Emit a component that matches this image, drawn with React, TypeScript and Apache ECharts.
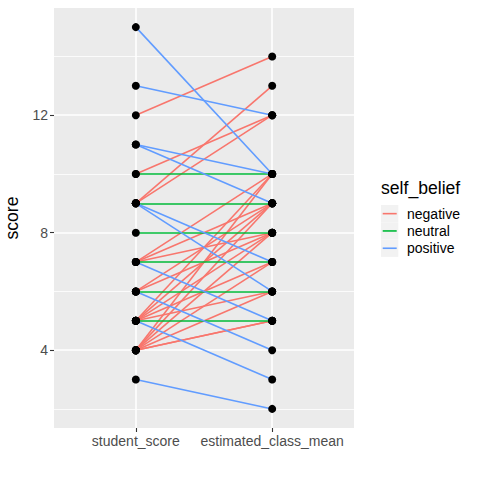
import React, { useEffect, useRef } from "react";
import * as echarts from "echarts";

// one entry per student: own score and estimated class mean
const studentScore = [15, 13, 11, 11, 9, 9, 7, 6, 5, 3, 10, 9, 8, 7, 6, 5, 12, 9, 10, 9, 7, 7, 7, 6, 6, 5, 5, 5, 5, 5, 4, 4, 4, 4, 4, 4, 4];
const estimatedMean = [10, 12, 10, 9, 7, 6, 5, 4, 3, 2, 10, 9, 8, 7, 6, 5, 14, 13, 12, 12, 10, 9, 8, 8, 9, 10, 9, 8, 7, 6, 10, 9, 8, 7, 6, 5, 5];

const xCategories = ["student_score", "estimated_class_mean"];
const yTicks = [4, 8, 12];
const yMinor = [2, 6, 10, 14];
const beliefLevels = ["negative", "neutral", "positive"];
const beliefColors = ["#F8766D", "#00BA38", "#619CFF"];

const FONT = "'Liberation Sans', Arial, Helvetica, sans-serif";

export default function App() {
  const ref = useRef<HTMLDivElement>(null);
  useEffect(() => {
    if (!ref.current) return;
    const chart = echarts.init(ref.current, null, { renderer: "svg" });

    const belief = studentScore.map((s, i) =>
      estimatedMean[i] > s ? 0 : estimatedMean[i] === s ? 1 : 2
    );

    const lineSeries = [0, 1, 2].map((lvl) => ({
      type: "lines",
      coordinateSystem: "cartesian2d",
      silent: true,
      z: 10,
      lineStyle: { color: beliefColors[lvl], width: 1.6, opacity: 1 },
      data: studentScore
        .map((s, i) => ({ s, e: estimatedMean[i], b: belief[i] }))
        .filter((d) => d.b === lvl)
        .map((d) => ({ coords: [[1, d.s], [2, d.e]] })),
    }));

    const pts: number[][] = [];
    studentScore.forEach((s) => pts.push([1, s]));
    estimatedMean.forEach((e) => pts.push([2, e]));

    const gridLines = {
      type: "line",
      data: [],
      silent: true,
      z: 1,
      markLine: {
        silent: true,
        z: 1,
        symbol: "none",
        label: { show: false },
        animation: false,
        data: [
          ...yMinor.map((v) => ({ yAxis: v, lineStyle: { color: "#ffffff", width: 0.8, type: "solid" } })),
          ...yTicks.map((v) => ({ yAxis: v, lineStyle: { color: "#ffffff", width: 1.6, type: "solid" } })),
          ...[1, 2].map((v) => ({ xAxis: v, lineStyle: { color: "#ffffff", width: 1.6, type: "solid" } })),
        ],
      },
    };

    const legendTop = 205;
    const keyH = 17.3;
    const legendGraphics: any[] = [
      {
        type: "text",
        left: 381,
        top: 179,
        style: { text: "self_belief", font: `17.6px ${FONT}`, fill: "#000000" },
      },
    ];
    beliefLevels.forEach((lab, i) => {
      const y0 = legendTop + i * keyH;
      legendGraphics.push({
        type: "rect",
        shape: { x: 381, y: y0, width: 17.3, height: keyH },
        style: { fill: "#F2F2F2" },
      });
      legendGraphics.push({
        type: "line",
        shape: { x1: 382.7, y1: y0 + keyH / 2, x2: 396.7, y2: y0 + keyH / 2 },
        style: { stroke: beliefColors[i], lineWidth: 1.6 },
      });
      legendGraphics.push({
        type: "text",
        x: 407,
        y: y0 + keyH / 2,
        style: {
          text: lab,
          font: `14px ${FONT}`,
          fill: "#000000",
          textVerticalAlign: "middle",
          verticalAlign: "middle",
        },
      });
    });

    chart.setOption({
      animation: false,
      backgroundColor: "#ffffff",
      textStyle: { fontFamily: FONT },
      grid: {
        left: 54,
        right: 126,
        top: 8,
        bottom: 52,
        containLabel: false,
        outerBoundsMode: "none",
        show: true,
        backgroundColor: "#EBEBEB",
        borderWidth: 0,
      },
      xAxis: {
        type: "value",
        min: 0.4,
        max: 2.6,
        axisLine: { show: false },
        splitLine: { show: false },
        axisTick: { show: true, customValues: [1, 2], length: 4, lineStyle: { color: "#333333", width: 1.1 } },
        axisLabel: {
          customValues: [1, 2],
          formatter: (v: number) => xCategories[Math.round(v) - 1] ?? "",
          color: "#4D4D4D",
          fontSize: 14,
          fontFamily: FONT,
          margin: 6,
        },
      },
      yAxis: {
        type: "value",
        min: 1.35,
        max: 15.65,
        name: "score",
        nameLocation: "middle",
        nameGap: 33,
        nameRotate: 90,
        nameTextStyle: { color: "#000000", fontSize: 17.6, fontFamily: FONT },
        axisLine: { show: false },
        splitLine: { show: false },
        axisTick: { show: true, customValues: yTicks, length: 4, lineStyle: { color: "#333333", width: 1.1 } },
        axisLabel: {
          customValues: yTicks,
          color: "#4D4D4D",
          fontSize: 14,
          fontFamily: FONT,
          margin: 6,
        },
      },
      graphic: legendGraphics,
      series: [
        gridLines,
        ...lineSeries,
        {
          type: "scatter",
          z: 20,
          silent: true,
          symbol: "circle",
          symbolSize: 8,
          itemStyle: { color: "#000000", opacity: 1 },
          data: pts,
        },
      ],
    });
    return () => chart.dispose();
  }, []);
  return <div ref={ref} style={{ position: "fixed", left: 0, top: 0, width: 480, height: 480 }} />;
}
